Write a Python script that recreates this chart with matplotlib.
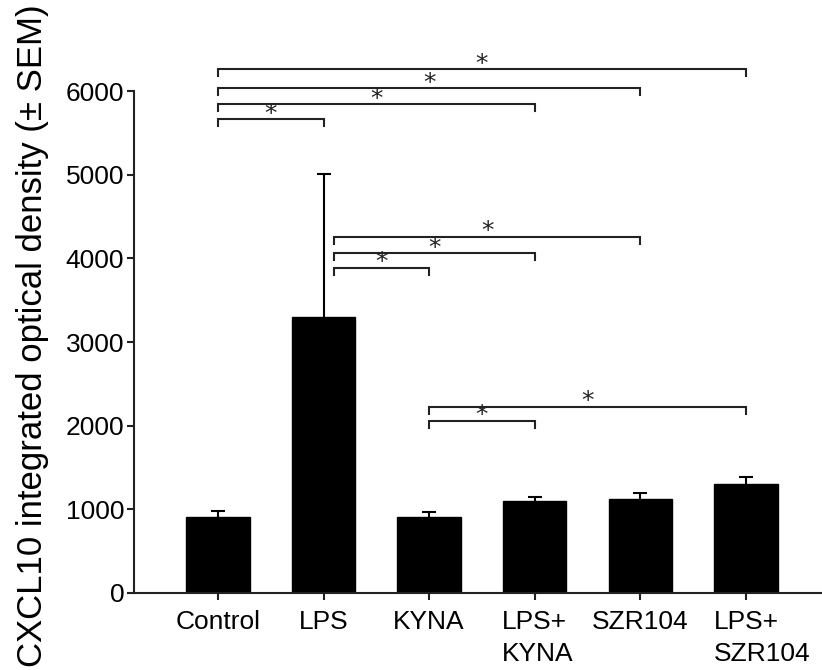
import matplotlib
matplotlib.use("Agg")
import numpy as np
import matplotlib.pyplot as plt
from matplotlib.transforms import ScaledTranslation, blended_transform_factory

categories = ["Control", "LPS", "KYNA", "LPS+\nKYNA", "SZR104", "LPS+\nSZR104"]
means = [912, 3305, 908, 1094, 1127, 1306]
sems = [63, 1705, 55, 48, 68, 80]
yticks = [0, 1000, 2000, 3000, 4000, 5000, 6000]
# significance brackets: (start index, end index, bracket height, start offset)
brackets = [
    (0, 5, 6260, 0.0), (0, 4, 6033, 0.0), (0, 3, 5842, 0.0), (0, 1, 5667, 0.0),
    (1, 4, 4260, 0.1), (1, 3, 4062, 0.1), (1, 2, 3890, 0.1),
    (2, 5, 2229, 0.0), (2, 3, 2062, 0.0),
]
ylabel = "CXCL10 integrated optical density (\u00b1 SEM)"

plt.rcParams['font.family'] = ['Liberation Sans', 'DejaVu Sans']

fig = plt.figure(figsize=(8.22, 6.70), dpi=100)
ax = fig.add_axes([134/822, 77/670, 1 - 134/822, 593/670])

x = list(range(len(categories)))
ax.bar(x, means, width=0.6, color='black', edgecolor='black', zorder=2)
eb = ax.errorbar(x, means, yerr=[[0]*len(sems), sems], fmt='none', ecolor='black',
                 elinewidth=1.5, capsize=5, capthick=1.5, zorder=1)
for cl in eb[1]:
    if np.allclose(np.asarray(cl.get_ydata(), dtype=float), means):
        cl.set_visible(False)

ax.set_xlim(-0.795, 5.72)
ax.set_ylim(0, 7090)
ax.set_yticks(yticks)
ax.set_yticklabels([str(t) for t in yticks])
ax.set_xticks(x)
ax.set_xticklabels([""] * len(x))

for s in ['top', 'right']:
    ax.spines[s].set_visible(False)
ax.spines['left'].set_bounds(0, 6000)
for s in ['left', 'bottom']:
    ax.spines[s].set_linewidth(1.5)
    ax.spines[s].set_color('#222222')
ax.tick_params(axis='both', width=1.5, length=5, labelsize=19, color='#222222')
ax.tick_params(axis='y', pad=2)

# x tick labels (two-line labels: first line centred on tick, left aligned block)
renderer = fig.canvas.get_renderer()
trans = blended_transform_factory(ax.transData, ax.transAxes)
for xi, lab in zip(x, categories):
    if "\n" in lab:
        first = lab.split("\n")[0]
        tmp = ax.text(0, 0, first, fontsize=19)
        w = tmp.get_window_extent(renderer).width
        tmp.remove()
        off = ScaledTranslation(-w / 2 / fig.dpi, -12/72, fig.dpi_scale_trans)
        ax.text(xi, 0, lab, fontsize=19, ha='left', va='top', linespacing=1.45,
                transform=trans + off)
    else:
        off = ScaledTranslation(0, -12/72, fig.dpi_scale_trans)
        ax.text(xi, 0, lab, fontsize=19, ha='center', va='top',
                transform=trans + off)

drop = 84
for i, j, h, o in brackets:
    xs = i + o
    ax.plot([xs, xs, j, j], [h - drop, h, h, h - drop], color='#222222', lw=1.5,
            solid_joinstyle='miter', clip_on=False)
    ax.text((xs + j) / 2, h + 65, "*", ha='center', va='center', fontsize=18,
            family='DejaVu Sans', color='#222222')

fig.text(33/822, 1 - 336/670, ylabel, rotation=90, ha='center', va='center',
         fontsize=25)

fig.savefig("out.png", dpi=100)
